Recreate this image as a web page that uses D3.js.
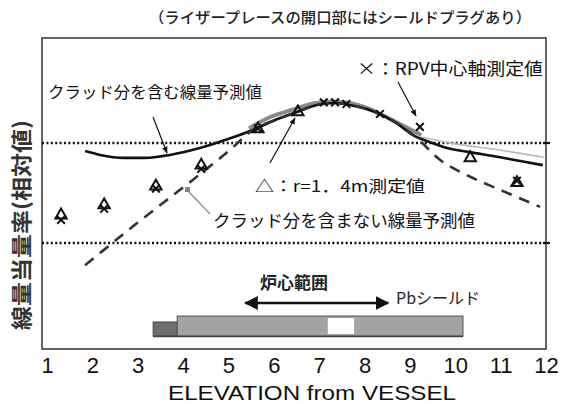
<!DOCTYPE html>
<html><head><meta charset="utf-8">
<script src="https://cdn.jsdelivr.net/npm/d3@7"></script>
<style>body{margin:0;background:#fff}svg{display:block}</style>
</head><body><svg id="c" width="575" height="404"></svg>
<script>
// ---- data ----
const elevTicks = [1,2,3,4,5,6,7,8,9,10,11,12];
const refLevels = [1, 0.1];
const withCladElev = [1.84,2.17,2.68,3.16,3.71,4.37,4.92,5.54,6.03,6.51,6.95,7.35,7.79,8.23,8.67,9.11,9.44,9.82,10.33,10.99,11.43,11.93];
const withCladVal  = [0.83,0.76,0.71,0.71,0.76,0.89,1.07,1.35,1.70,2.04,2.40,2.51,2.34,2.04,1.62,1.17,1.02,0.89,0.81,0.72,0.66,0.60];
const noCladElev = [1.84,3.0,4.22,5.03,5.54,6.03,6.51,6.95,7.35,7.79,8.23,8.67,9.11,9.66,10.33,10.99,11.87];
const noCladVal  = [0.060,0.16,0.43,0.85,1.35,1.70,2.04,2.40,2.51,2.34,2.04,1.62,1.17,0.68,0.46,0.34,0.23];
const triElev = [1.31,2.26,3.40,4.40,5.65,6.53,10.33,11.36];
const triVal  = [0.19,0.24,0.37,0.60,1.38,2.04,0.71,0.40];
const crossElev = [1.31,2.26,3.40,4.40,5.65,7.10,7.35,7.60,8.34,9.22,11.36];
const crossVal  = [0.17,0.22,0.35,0.55,1.40,2.55,2.55,2.45,1.95,1.45,0.42];
const measElev = [5.45,5.9,6.4,6.9,7.3,7.7,8.1,8.5,8.9,9.25];
const measVal  = [1.40,1.80,2.15,2.50,2.60,2.50,2.20,1.80,1.45,1.20];
const measTailElev = [9.25,10.0,10.9,11.95];
const measTailVal  = [1.15,0.98,0.86,0.72];
const shieldStep = [3.34,3.87];
const shieldMain = [3.87,10.17];
const shieldGap  = [7.19,7.77];
const coreRange = [5.37,8.52];

const titleText = "（ライザープレースの開口部にはシールドプラグあり）";
const yTitle = "線量当量率(相対値)";
const xTitle = "ELEVATION from VESSEL";
const lblWith = "クラッド分を含む線量予測値";
const lblWithout = "クラッド分を含まない線量予測値";
const lblTri = "△：r=1．4m測定値";
const lblCross = "×：RPV中心軸測定値";
const lblCore = "炉心範囲";
const lblPb = "Pbシールド";

// ---- layout ----
const svg = d3.select("#c");
const F = {l:42, t:38, r:546, b:349};
const x = d3.scaleLinear().domain([1,12]).range([47,546]);
const y = d3.scaleLog().domain([0.01,10]).range([343,43]);
const jp = "'Noto Sans CJK JP', sans-serif";

const defs = svg.append("defs");
defs.append("marker").attr("id","ah").attr("viewBox","0 0 10 10").attr("refX",9).attr("refY",5)
  .attr("markerWidth",7).attr("markerHeight",7).attr("orient","auto-start-reverse").attr("markerUnits","userSpaceOnUse")
  .append("path").attr("d","M0,1L10,5L0,9z").attr("fill","#111");
defs.append("marker").attr("id","ah2").attr("viewBox","0 0 10 10").attr("refX",9).attr("refY",5)
  .attr("markerWidth",14).attr("markerHeight",14).attr("orient","auto-start-reverse").attr("markerUnits","userSpaceOnUse")
  .append("path").attr("d","M0,0L10,5L0,10z").attr("fill","#111");

// title
svg.append("text").attr("x",340).attr("y",23).attr("text-anchor","middle")
  .attr("font-family",jp).attr("font-size",15).attr("font-weight",500).attr("fill","#222")
  .attr("textLength",382).attr("lengthAdjust","spacingAndGlyphs").text(titleText);

// frame
svg.append("rect").attr("x",F.l).attr("y",F.t).attr("width",F.r-F.l).attr("height",F.b-F.t)
  .attr("fill","none").attr("stroke","#333").attr("stroke-width",1.5);

// reference dotted lines
refLevels.forEach(v=>{
  svg.append("line").attr("x1",F.l).attr("x2",F.r+3).attr("y1",y(v)).attr("y2",y(v))
    .attr("stroke","#111").attr("stroke-width",2.5).attr("stroke-dasharray","2,2.4");
  svg.append("line").attr("x1",F.r-3).attr("x2",F.r+4).attr("y1",y(v)).attr("y2",y(v))
    .attr("stroke","#111").attr("stroke-width",2);
});

// x axis labels
const xa = d3.axisBottom(x).tickValues(elevTicks).tickSize(0).tickPadding(8).tickFormat(d3.format("d"));
const gx = svg.append("g").attr("transform",`translate(0,${F.b})`).call(xa);
gx.select(".domain").remove();
gx.selectAll("text").attr("font-family","'Liberation Sans', Arial, sans-serif").attr("font-size",22).attr("fill","#111");
svg.append("text").attr("x",312).attr("y",400).attr("text-anchor","middle")
  .attr("font-family","'Liberation Sans', Arial, sans-serif").attr("font-size",20).attr("fill","#111")
  .attr("textLength",288).attr("lengthAdjust","spacingAndGlyphs").text(xTitle);

// y title
svg.append("text").attr("transform","translate(29,225) rotate(-90)").attr("text-anchor","middle")
  .attr("font-family",jp).attr("font-weight","bold").attr("font-size",21).attr("fill","#333")
  .attr("textLength",210).attr("lengthAdjust","spacingAndGlyphs").text(yTitle);

// lines
const line = d3.line().x(d=>x(d[0])).y(d=>y(d[1])).curve(d3.curveMonotoneX);
const zip = (a,b)=>a.map((v,i)=>[v,b[i]]);
svg.append("path").attr("d",line(zip(measElev,measVal))).attr("fill","none").attr("stroke","#8a8a8a").attr("stroke-width",4);
svg.append("path").attr("d",line(zip(measTailElev,measTailVal))).attr("fill","none").attr("stroke","#bbb").attr("stroke-width",1.6);
svg.append("path").attr("d",line(zip(withCladElev,withCladVal))).attr("fill","none").attr("stroke","#111").attr("stroke-width",2.6);
svg.append("path").attr("d",line(zip(noCladElev,noCladVal))).attr("fill","none").attr("stroke","#333").attr("stroke-width",2.6).attr("stroke-dasharray","11,8");

// markers
const tri = d3.symbol().type(d3.symbolTriangle).size(55);
svg.selectAll(".tri").data(zip(triElev,triVal)).join("path")
  .attr("transform",d=>`translate(${x(d[0])},${y(d[1])})`).attr("d",tri())
  .attr("fill","none").attr("stroke","#111").attr("stroke-width",2);
const crs = d3.symbol().type(d3.symbolTimes).size(40);
svg.selectAll(".crs").data(zip(crossElev,crossVal)).join("path")
  .attr("transform",d=>`translate(${x(d[0])},${y(d[1])})`).attr("d",crs())
  .attr("fill","none").attr("stroke","#111").attr("stroke-width",2);

// shield bar
svg.append("rect").attr("x",x(shieldStep[0])).attr("width",x(shieldStep[1])-x(shieldStep[0]))
  .attr("y",322).attr("height",14).attr("fill","#6e6e6e").attr("stroke","#444").attr("stroke-width",1);
svg.append("rect").attr("x",x(shieldMain[0])).attr("width",x(shieldMain[1])-x(shieldMain[0]))
  .attr("y",316).attr("height",20).attr("fill","#a3a3a3").attr("stroke","#555").attr("stroke-width",1);
svg.append("rect").attr("x",x(shieldGap[0])).attr("width",x(shieldGap[1])-x(shieldGap[0]))
  .attr("y",318).attr("height",16).attr("fill","#fff");
svg.append("line").attr("x1",x(shieldStep[0])).attr("x2",x(shieldMain[1])).attr("y1",336.5).attr("y2",336.5)
  .attr("stroke","#444").attr("stroke-width",1.5);
svg.append("line").attr("x1",x(coreRange[0])).attr("x2",x(coreRange[1])).attr("y1",303).attr("y2",303)
  .attr("stroke","#111").attr("stroke-width",2.5).attr("marker-start","url(#ah2)").attr("marker-end","url(#ah2)");
svg.append("text").attr("x",294).attr("y",289).attr("text-anchor","middle").attr("font-family",jp)
  .attr("font-size",17).attr("font-weight","bold").attr("fill","#222").text(lblCore);
svg.append("text").attr("x",396).attr("y",304).attr("font-family",jp)
  .attr("font-size",16).attr("fill","#222").text(lblPb);

// annotations
svg.append("text").attr("x",48).attr("y",98).attr("font-family",jp).attr("font-size",16).attr("fill","#111")
  .attr("textLength",214).attr("lengthAdjust","spacingAndGlyphs").text(lblWith);
svg.append("line").attr("x1",153).attr("y1",117).attr("x2",167).attr("y2",153)
  .attr("stroke","#111").attr("stroke-width",1.2).attr("marker-end","url(#ah)");

svg.append("text").attr("x",357).attr("y",75).attr("font-family",jp).attr("font-size",17).attr("fill","#111")
  .attr("textLength",186).attr("lengthAdjust","spacingAndGlyphs").text(lblCross);
svg.append("line").attr("x1",398).attr("y1",82).attr("x2",416).attr("y2",116)
  .attr("stroke","#111").attr("stroke-width",1.2).attr("marker-end","url(#ah)");

svg.append("text").attr("x",255).attr("y",192).attr("font-family",jp).attr("font-size",16).attr("fill","#111")
  .attr("textLength",170).attr("lengthAdjust","spacingAndGlyphs").text(lblTri);
svg.append("line").attr("x1",270).attr("y1",163).attr("x2",295).attr("y2",118)
  .attr("stroke","#111").attr("stroke-width",1.2).attr("marker-end","url(#ah)");

svg.append("text").attr("x",213).attr("y",227).attr("font-family",jp).attr("font-size",17).attr("fill","#111")
  .attr("textLength",262).attr("lengthAdjust","spacingAndGlyphs").text(lblWithout);
svg.append("line").attr("x1",210).attr("y1",214).attr("x2",188).attr("y2",191)
  .attr("stroke","#888").attr("stroke-width",1.2);
svg.append("rect").attr("x",185).attr("y",187).attr("width",5).attr("height",5).attr("fill","#888");
</script></body></html>
